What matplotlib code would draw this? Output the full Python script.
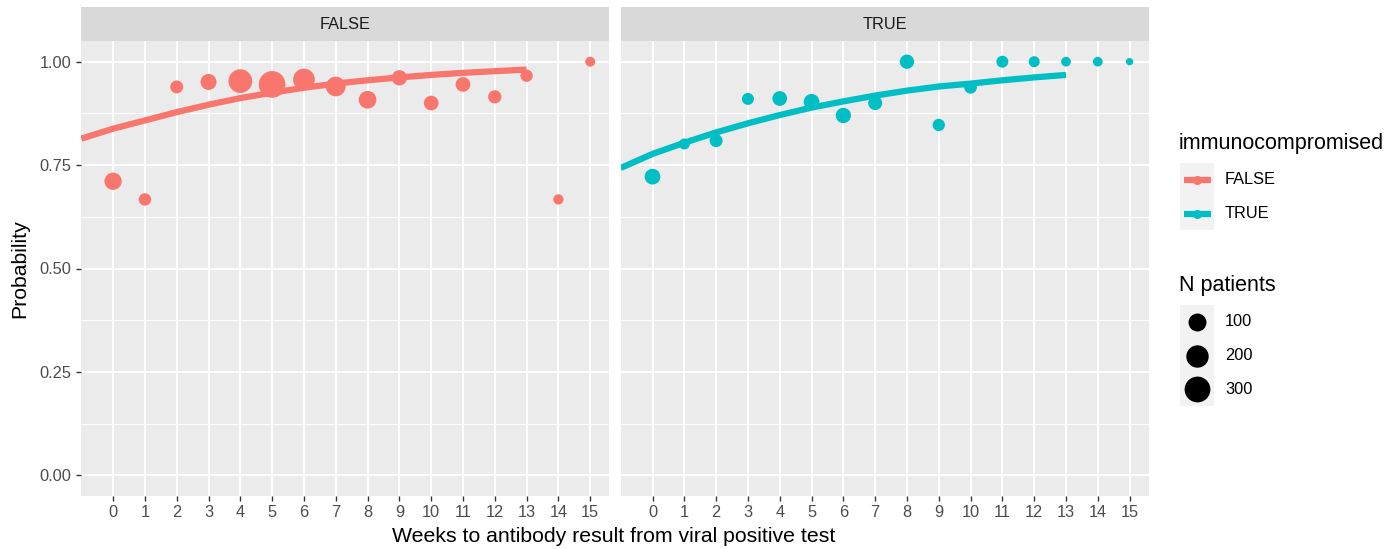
import matplotlib.pyplot as plt
from matplotlib.patches import Rectangle
import numpy as np

plt.rcParams['font.family'] = ['Liberation Sans', 'DejaVu Sans']

# data
weeks = list(range(16))
groups = ['FALSE', 'TRUE']

prob_false = [0.711, 0.667, 0.939, 0.951, 0.953, 0.945, 0.957, 0.940,
              0.908, 0.961, 0.900, 0.945, 0.915, 0.966, 0.667, 1.000]
n_false = [88, 24, 29, 67, 236, 330, 182, 135, 95, 57, 49, 49, 32, 23, 9, 7]

prob_true = [0.722, 0.801, 0.809, 0.910, 0.911, 0.903, 0.870, 0.900,
             1.000, 0.847, 0.938, 1.000, 1.000, 1.000, 1.000, 1.000]
n_true = [63, 13, 29, 20, 49, 63, 57, 40, 44, 23, 26, 20, 13, 6, 6, 1]

curve_weeks = [-1.0, 0, 1, 2, 3, 4, 5, 6, 7, 8, 9, 10, 11, 12, 13]
curve_false = [0.814, 0.838, 0.858, 0.878, 0.896, 0.912, 0.925, 0.937,
               0.947, 0.955, 0.962, 0.968, 0.973, 0.977, 0.981]
curve_true = [0.743, 0.777, 0.804, 0.829, 0.851, 0.871, 0.889, 0.904,
              0.918, 0.930, 0.940, 0.947, 0.955, 0.962, 0.968]

size_breaks = [100, 200, 300]
y_ticks = [0.00, 0.25, 0.50, 0.75, 1.00]

colors = {'FALSE': '#F8766D', 'TRUE': '#00BFC4'}
W, H = 1400, 549


def diam_px(n):
    n = np.asarray(n, dtype=float)
    return 7.3 + 19.4 * np.sqrt((n - 1) / 329.0)


def s_pts(n):
    return (diam_px(n) * 72 / 100) ** 2


fig = plt.figure(figsize=(W / 100, H / 100), dpi=100)

panels = [(81.3, 'FALSE', prob_false, n_false, curve_false),
          (620.7, 'TRUE', prob_true, n_true, curve_true)]
pw = 528.0
top, bot = 41.0, 496.0

for i, (x0, g, probs, ns, curve) in enumerate(panels):
    ax = fig.add_axes([x0 / W, (H - bot) / H, pw / W, (bot - top) / H])
    ax.set_facecolor('#EBEBEB')
    ax.set_xlim(-1.0, 15.6)
    ax.set_ylim(-0.05, 1.05)
    ax.set_yticks(y_ticks)
    ax.set_yticks([0.125, 0.375, 0.625, 0.875], minor=True)
    ax.set_xticks(weeks)
    ax.grid(True, which='major', color='white', lw=1.42)
    ax.grid(True, which='minor', axis='y', color='white', lw=0.71)
    ax.set_axisbelow(True)
    for sp in ax.spines.values():
        sp.set_visible(False)
    ax.tick_params(which='major', length=3.6, width=1.0, color='#333333',
                   labelsize=11.8, labelcolor='#4D4D4D')
    ax.tick_params(axis='x', pad=3.0)
    ax.tick_params(axis='y', pad=3.6)
    ax.tick_params(which='minor', length=0)
    if i == 0:
        ax.set_yticklabels(['%.2f' % v for v in y_ticks])
    else:
        ax.tick_params(axis='y', left=False, labelleft=False)

    ax.plot(curve_weeks, curve, color=colors[g], lw=4.5,
            solid_capstyle='butt', zorder=2)
    ax.scatter(weeks, probs, s=s_pts(ns), color=colors[g], linewidths=0,
               zorder=3)

# overlay in pixel coordinates for strips, titles and legends
ov = fig.add_axes([0, 0, 1, 1], facecolor='none')
ov.set_xlim(0, W)
ov.set_ylim(H, 0)
ov.axis('off')

for x0, g, *_ in panels:
    ov.add_patch(Rectangle((x0, 7), pw, 34, color='#D9D9D9', lw=0))
    ov.text(x0 + pw / 2, 24.5, g, ha='center', va='center',
            fontsize=11.8, color='#1A1A1A')

ov.text(614, 537, 'Weeks to antibody result from viral positive test',
        ha='center', va='center', fontsize=15.3)
ov.text(20, 268.5, 'Probability', rotation=90, ha='center', va='center',
        fontsize=15.3)

# colour legend
ov.text(1179, 143, 'immunocompromised', ha='left', va='center',
        fontsize=15.5)
ov.add_patch(Rectangle((1180, 163), 34, 67, color='#F2F2F2', lw=0))
for j, g in enumerate(groups):
    yy = 180 + j * 34
    ov.plot([1183.5, 1210.5], [yy, yy], color=colors[g], lw=4.5,
            solid_capstyle='butt')
    ov.plot([1197], [yy], 'o', color=colors[g], ms=6.5, mew=0)
    ov.text(1225, yy, g, ha='left', va='center', fontsize=11.8)

# size legend
ov.text(1179, 285, 'N patients', ha='left', va='center', fontsize=15.5)
ov.add_patch(Rectangle((1180, 305), 34, 101, color='#F2F2F2', lw=0))
key_y = [322, 355.5, 389]
for b, yy in zip(size_breaks, key_y):
    ov.scatter([1197], [yy], s=s_pts(b), color='black', linewidths=0)
    ov.text(1225, yy, str(b), ha='left', va='center', fontsize=11.8)

fig.savefig('out.png', dpi=100)
